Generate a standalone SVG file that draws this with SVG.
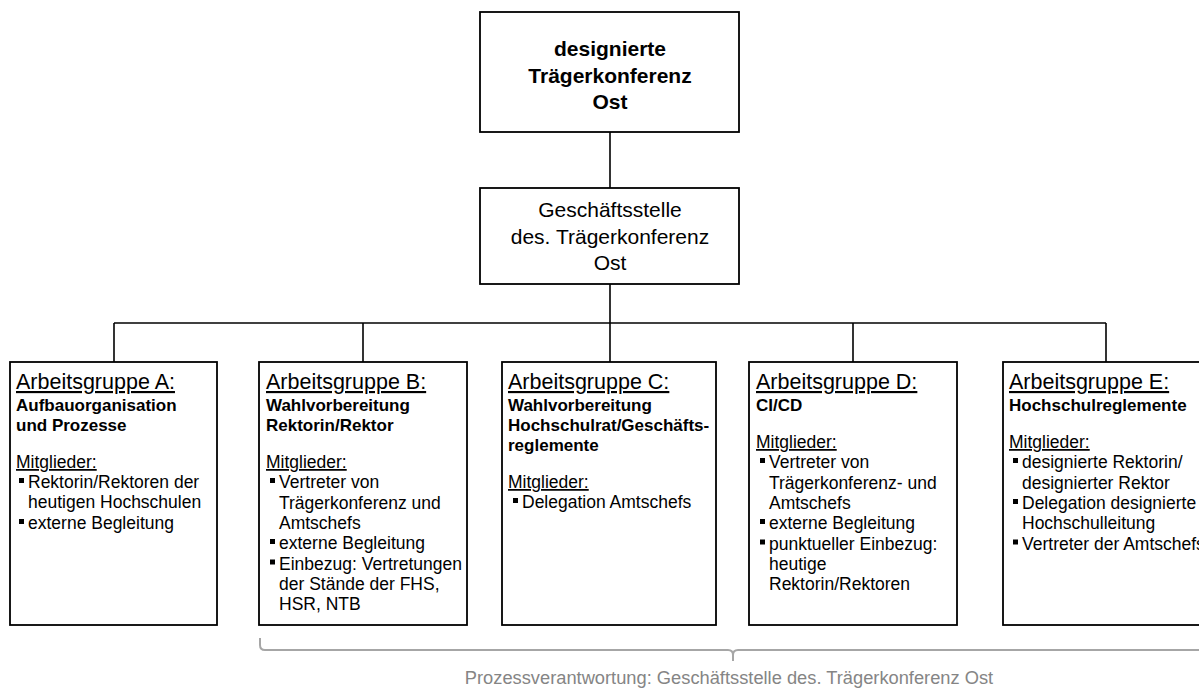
<svg xmlns="http://www.w3.org/2000/svg" width="1199" height="689" viewBox="0 0 1199 689">
<style>
  .box { fill: #ffffff; stroke: #000000; stroke-width: 1.8; }
  .conn { fill: none; stroke: #000000; stroke-width: 1.6; }
  .brace { fill: none; stroke: #a6a6a6; stroke-width: 2; }
  .t { font-family: "Liberation Sans", Arial, sans-serif; fill: #000000; }
  .title { font-size: 21px; font-weight: 700; text-anchor: middle; }
  .title2 { font-size: 21px; font-weight: 400; text-anchor: middle; }
  .head { font-size: 21.5px; text-decoration: underline; }
  .sub { font-size: 17px; font-weight: 700; }
  .mit { font-size: 17.5px; text-decoration: underline; }
  .li { font-size: 17.5px; }
  .note { font-family: "Liberation Sans", Arial, sans-serif; font-size: 18.3px; fill: #858585; text-anchor: middle; }
  .bul { fill: #000000; }
</style>

<g id="connectors">
  <line class="conn" x1="610" y1="132" x2="610" y2="188"/>
  <line class="conn" x1="610" y1="284" x2="610" y2="323"/>
  <line class="conn" x1="114" y1="323" x2="1106" y2="323"/>
  <line class="conn" x1="114" y1="323" x2="114" y2="362"/>
  <line class="conn" x1="363" y1="323" x2="363" y2="362"/>
  <line class="conn" x1="610" y1="323" x2="610" y2="362"/>
  <line class="conn" x1="853" y1="323" x2="853" y2="362"/>
  <line class="conn" x1="1106" y1="323" x2="1106" y2="362"/>
</g>

<g id="node-top">
  <rect class="box" x="480" y="12" width="259" height="120"/>
  <text class="t title" x="610" y="56">designierte</text>
  <text class="t title" x="610" y="83">Trägerkonferenz</text>
  <text class="t title" x="610" y="109">Ost</text>
</g>

<g id="node-geschaeftsstelle">
  <rect class="box" x="480" y="188" width="259" height="96"/>
  <text class="t title2" x="610" y="217">Geschäftsstelle</text>
  <text class="t title2" x="610" y="244">des. Trägerkonferenz</text>
  <text class="t title2" x="610" y="270">Ost</text>
</g>

<g id="node-a">
  <rect class="box" x="10" y="362" width="207" height="263"/>
  <text class="t head" x="16" y="389">Arbeitsgruppe A:</text>
  <text class="t sub" x="16" y="411">Aufbauorganisation</text>
  <text class="t sub" x="16" y="431">und Prozesse</text>
  <text class="t mit" x="16" y="468">Mitglieder:</text>
  <rect class="bul" x="19" y="478" width="5" height="5"/>
  <text class="t li" x="28" y="488">Rektorin/Rektoren der</text>
  <text class="t li" x="28" y="508">heutigen Hochschulen</text>
  <rect class="bul" x="19" y="519" width="5" height="5"/>
  <text class="t li" x="28" y="529">externe Begleitung</text>
</g>

<g id="node-b">
  <rect class="box" x="259" y="362" width="208" height="263"/>
  <text class="t head" x="266" y="389">Arbeitsgruppe B:</text>
  <text class="t sub" x="266" y="411">Wahlvorbereitung</text>
  <text class="t sub" x="266" y="431">Rektorin/Rektor</text>
  <text class="t mit" x="266" y="468">Mitglieder:</text>
  <rect class="bul" x="270" y="478" width="5" height="5"/>
  <text class="t li" x="279" y="488">Vertreter von</text>
  <text class="t li" x="279" y="508.5">Trägerkonferenz und</text>
  <text class="t li" x="279" y="529">Amtschefs</text>
  <rect class="bul" x="270" y="539" width="5" height="5"/>
  <text class="t li" x="279" y="549">externe Begleitung</text>
  <rect class="bul" x="270" y="559.5" width="5" height="5"/>
  <text class="t li" x="279" y="569.5">Einbezug: Vertretungen</text>
  <text class="t li" x="279" y="590">der Stände der FHS,</text>
  <text class="t li" x="279" y="610">HSR, NTB</text>
</g>

<g id="node-c">
  <rect class="box" x="502" y="362" width="214" height="263"/>
  <text class="t head" x="508" y="389">Arbeitsgruppe C:</text>
  <text class="t sub" x="508" y="411">Wahlvorbereitung</text>
  <text class="t sub" x="508" y="431">Hochschulrat/Geschäfts-</text>
  <text class="t sub" x="508" y="451">reglemente</text>
  <text class="t mit" x="508" y="488">Mitglieder:</text>
  <rect class="bul" x="513" y="498" width="5" height="5"/>
  <text class="t li" x="522" y="508">Delegation Amtschefs</text>
</g>

<g id="node-d">
  <rect class="box" x="749" y="362" width="208" height="263"/>
  <text class="t head" x="756" y="389">Arbeitsgruppe D:</text>
  <text class="t sub" x="756" y="411">CI/CD</text>
  <text class="t mit" x="756" y="448">Mitglieder:</text>
  <rect class="bul" x="760" y="458" width="5" height="5"/>
  <text class="t li" x="769" y="468">Vertreter von</text>
  <text class="t li" x="769" y="488.5">Trägerkonferenz- und</text>
  <text class="t li" x="769" y="509">Amtschefs</text>
  <rect class="bul" x="760" y="519" width="5" height="5"/>
  <text class="t li" x="769" y="529">externe Begleitung</text>
  <rect class="bul" x="760" y="539.5" width="5" height="5"/>
  <text class="t li" x="769" y="549.5">punktueller Einbezug:</text>
  <text class="t li" x="769" y="570">heutige</text>
  <text class="t li" x="769" y="590">Rektorin/Rektoren</text>
</g>

<g id="node-e">
  <rect class="box" x="1003" y="362" width="230" height="263"/>
  <text class="t head" x="1009" y="389">Arbeitsgruppe E:</text>
  <text class="t sub" x="1009" y="411">Hochschulreglemente</text>
  <text class="t mit" x="1009" y="448">Mitglieder:</text>
  <rect class="bul" x="1013" y="458" width="5" height="5"/>
  <text class="t li" x="1022" y="468">designierte Rektorin/</text>
  <text class="t li" x="1022" y="488.5">designierter Rektor</text>
  <rect class="bul" x="1013" y="499" width="5" height="5"/>
  <text class="t li" x="1022" y="509">Delegation designierte</text>
  <text class="t li" x="1022" y="529">Hochschulleitung</text>
  <rect class="bul" x="1013" y="539.5" width="5" height="5"/>
  <text class="t li" x="1022" y="549.5">Vertreter der Amtschefs</text>
</g>

<g id="process-brace">
  <path class="brace" d="M260,638 V645 Q260,650 265,650 H728 Q733,650 733,655 V661 M733,655 Q733,650 738,650 H1210"/>
  <text class="note" x="729" y="684">Prozessverantwortung: Geschäftsstelle des. Trägerkonferenz Ost</text>
</g>
</svg>
